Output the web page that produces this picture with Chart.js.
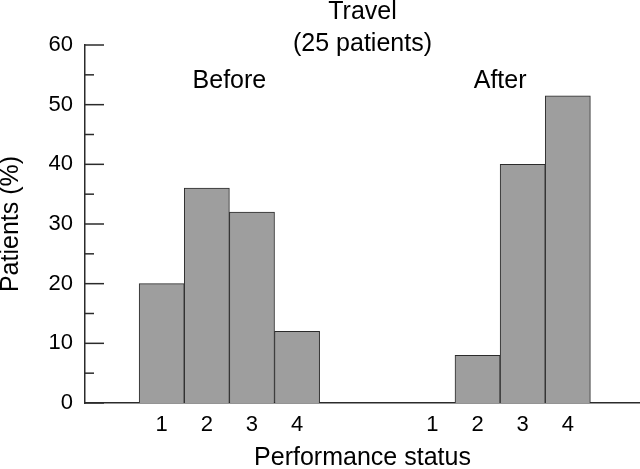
<!DOCTYPE html>
<html>
<head>
<meta charset="utf-8">
<script src="https://cdn.jsdelivr.net/npm/chart.js@4.4.1/dist/chart.umd.min.js"></script>
<style>
	html, body { margin: 0; padding: 0; background: #fff; }
	.wrap { width: 640px; height: 469px; }
</style>
</head>
<body>
<div class="wrap"><canvas id="travel"></canvas></div>
<script>
const categories = ['1', '2', '3', '4']
const beforeValues = [20, 36, 32, 12]
const afterValues = [0, 8, 40, 51.5]
const groupLabels = ['Before', 'After']
const groupStarts = [1, 7]
const titleLines = ['Travel', '(25 patients)']

const textFont = '"Liberation Sans", Arial, Helvetica, sans-serif'
const axisColor = '#2b2b2b'

const toPoints = (values, start) => values.map((v, i) => ({ x: start + i, y: v }))
const tickPositions = groupStarts.flatMap(s => categories.map((c, i) => s + i))

// ticks pointing into the plot, long ones every 10, short ones between
const innerTicks = {
	id: 'innerTicks',
	afterDraw(chart) {
		const { ctx, scales: { x, y }, chartArea } = chart
		ctx.save()
		ctx.strokeStyle = axisColor
		ctx.lineWidth = 1.5
		y.ticks.forEach(t => {
			const py = y.getPixelForValue(t.value)
			const len = t.value % 10 === 0 ? 19 : 9
			ctx.beginPath()
			ctx.moveTo(chartArea.left, py)
			ctx.lineTo(chartArea.left + len, py)
			ctx.stroke()
		})

		ctx.fillStyle = '#000'
		ctx.textAlign = 'center'
		ctx.textBaseline = 'alphabetic'
		ctx.font = '25px ' + textFont
		const cx = (chartArea.left + chartArea.right) / 2
		ctx.fillText(titleLines[0], cx, 19)
		ctx.fillText(titleLines[1], cx, 51)

		groupLabels.forEach((label, g) => {
			const mid = groupStarts[g] + (categories.length - 1) / 2
			ctx.fillText(label, x.getPixelForValue(mid), chartArea.top + 43)
		})
		ctx.restore()
	}
}

new Chart(document.getElementById('travel').getContext('2d'), {
	type: 'bar',
	data: {
		datasets: [
			{ label: groupLabels[0], data: toPoints(beforeValues, groupStarts[0]) },
			{ label: groupLabels[1], data: toPoints(afterValues, groupStarts[1]) }
		].map(ds => Object.assign(ds, {
			backgroundColor: '#9e9e9e',
			borderColor: axisColor,
			borderWidth: 1,
			grouped: false,
			barPercentage: 1,
			categoryPercentage: 1
		}))
	},
	options: {
		responsive: true,
		maintainAspectRatio: false,
		animation: false,
		layout: { padding: { top: 45, right: 0, left: 0, bottom: 0 } },
		plugins: {
			legend: { display: false },
			tooltip: { enabled: false }
		},
		scales: {
			x: {
				type: 'linear',
				min: -0.7,
				max: 11.6,
				offset: false,
				grid: { display: false, drawTicks: false },
				border: { display: true, color: axisColor, width: 1.5 },
				afterBuildTicks: scale => {
					scale.ticks = tickPositions.map(v => ({ value: v }))
				},
				afterFit: scale => { scale.height = 66 },
				ticks: {
					autoSkip: false,
					maxRotation: 0,
					padding: 9,
					color: '#000',
					font: { family: textFont, size: 22 },
					callback: v => categories[(v - 1) % 6] ?? ''
				},
				title: {
					display: true,
					text: 'Performance status',
					color: '#000',
					font: { family: textFont, size: 25, lineHeight: 0.84 },
					padding: { top: 0, bottom: 0 }
				}
			},
			y: {
				min: 0,
				max: 60,
				grid: { display: false, drawTicks: false },
				border: { display: true, color: axisColor, width: 1.5 },
				afterFit: scale => { scale.width = 85 },
				ticks: {
					stepSize: 5,
					padding: 12,
					color: '#000',
					font: { family: textFont, size: 22 },
					callback: v => v % 10 === 0 ? v : ''
				},
				title: {
					display: true,
					text: 'Patients (%)',
					color: '#000',
					font: { family: textFont, size: 25, lineHeight: 0.85 },
					padding: { top: 0, bottom: 0 }
				}
			}
		}
	},
	plugins: [innerTicks]
})
</script>
</body>
</html>
